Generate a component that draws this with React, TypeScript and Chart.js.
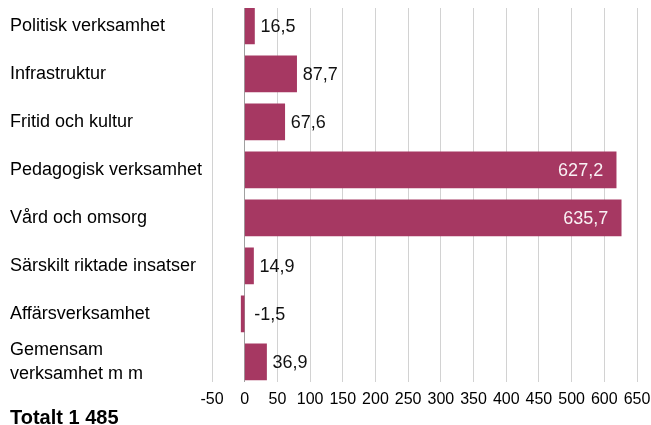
import React, { useEffect, useRef } from "react";
import { Chart, registerables } from "chart.js";

Chart.register(...registerables);

const categories: (string | string[])[] = [
  "Politisk verksamhet",
  "Infrastruktur",
  "Fritid och kultur",
  "Pedagogisk verksamhet",
  "Vård och omsorg",
  "Särskilt riktade insatser",
  "Affärsverksamhet",
  ["Gemensam", "verksamhet m m"],
];

const values: number[] = [16.5, 87.7, 67.6, 627.2, 635.7, 14.9, -1.5, 36.9];

const tickLabels: string[] = [
  "-50", "0", "50", "100", "150", "200", "250", "300", "350", "400", "450", "500", "600", "650",
];

const titleText = "Totalt 1 485";

// spacing of the (unevenly labelled) value grid, in data units
const gridStep = 55.2;
const insideThreshold = 300;

const FONT = '"Liberation Sans", Arial, Helvetica, sans-serif';
const BAR_COLOR = "#A63862";

const fmt = (v: number) => v.toFixed(1).replace(".", ",");

const valueLabelPlugin = {
  id: "valueLabels",
  afterDatasetsDraw(chart: any) {
    const ctx = chart.ctx;
    const meta = chart.getDatasetMeta(0);
    ctx.save();
    ctx.font = `18px ${FONT}`;
    ctx.textBaseline = "middle";
    meta.data.forEach((bar: any, i: number) => {
      const v = values[i];
      const { x, y, base } = bar.getProps(["x", "y", "base"], true);
      const text = fmt(v);
      if (v > insideThreshold) {
        ctx.fillStyle = "rgba(255,255,255,0.93)";
        ctx.textAlign = "right";
        ctx.fillText(text, x - 13, y + 1);
      } else {
        ctx.fillStyle = "#111";
        ctx.textAlign = "left";
        const start = v < 0 ? base + 10 : Math.max(x, base) + 6;
        ctx.fillText(text, start, y + 1);
      }
    });
    ctx.restore();
  },
};

export default function App() {
  const ref = useRef<HTMLCanvasElement | null>(null);

  useEffect(() => {
    if (!ref.current) return;
    const chart = new Chart(ref.current, {
      type: "bar",
      data: {
        datasets: [
          {
            data: values.map((v, i) => ({ x: v, y: i })),
            backgroundColor: BAR_COLOR,
            borderWidth: 0,
            barThickness: 36,
            minBarLength: 3.5,
          },
        ],
      },
      options: {
        indexAxis: "y",
        animation: false,
        responsive: false,
        layout: { padding: { left: 10, right: 14, top: 8, bottom: 0 } },
        plugins: {
          legend: { display: false },
          tooltip: { enabled: false },
          title: {
            display: true,
            text: titleText,
            position: "bottom",
            align: "start",
            color: "#000",
            font: { family: FONT, size: 20, weight: "bold" },
            padding: { top: -11, bottom: -5 },
          },
        },
        scales: {
          x: {
            type: "linear",
            position: "bottom",
            offset: false,
            min: -gridStep,
            max: gridStep * (tickLabels.length - 2),
            afterBuildTicks: (axis: any) => {
              axis.ticks = tickLabels.map((_, i) => ({ value: (i - 1) * gridStep }));
            },
            afterFit: (axis: any) => {
              axis.paddingLeft = 0;
              axis.paddingRight = 0;
            },
            ticks: {
              callback: (_v: any, i: number) => tickLabels[i],
              autoSkip: false,
              maxRotation: 0,
              minRotation: 0,
              color: "#000",
              padding: 8,
              font: { family: FONT, size: 16 },
            },
            grid: {
              drawTicks: false,
              offset: false,
              color: (c: any) => (c.tick && c.tick.value === 0 ? "#a0a0a0" : "#d2d2d2"),
              lineWidth: 1,
            },
            border: { display: false },
          },
          y: {
            type: "linear",
            offset: false,
            reverse: true,
            min: -0.371,
            max: 7.415,
            afterBuildTicks: (axis: any) => {
              axis.ticks = categories.map((_, i) => ({ value: i }));
            },
            afterFit: (axis: any) => {
              axis.width = 202;
              axis.paddingTop = 0;
              axis.paddingBottom = 0;
            },
            ticks: {
              callback: (_v: any, i: number) => categories[i],
              autoSkip: false,
              crossAlign: "far",
              color: "#000",
              padding: 7,
              font: { family: FONT, size: 18, lineHeight: 1.3 },
            },
            grid: { display: false, drawTicks: false, offset: false },
            border: { display: false },
          },
        },
      },
      plugins: [valueLabelPlugin],
    } as any);
    return () => chart.destroy();
  }, []);

  return (
    <div style={{ position: "absolute", left: 0, top: 0, width: 651, height: 425 }}>
      <canvas ref={ref} width={651} height={425} style={{ display: "block" }} />
    </div>
  );
}
